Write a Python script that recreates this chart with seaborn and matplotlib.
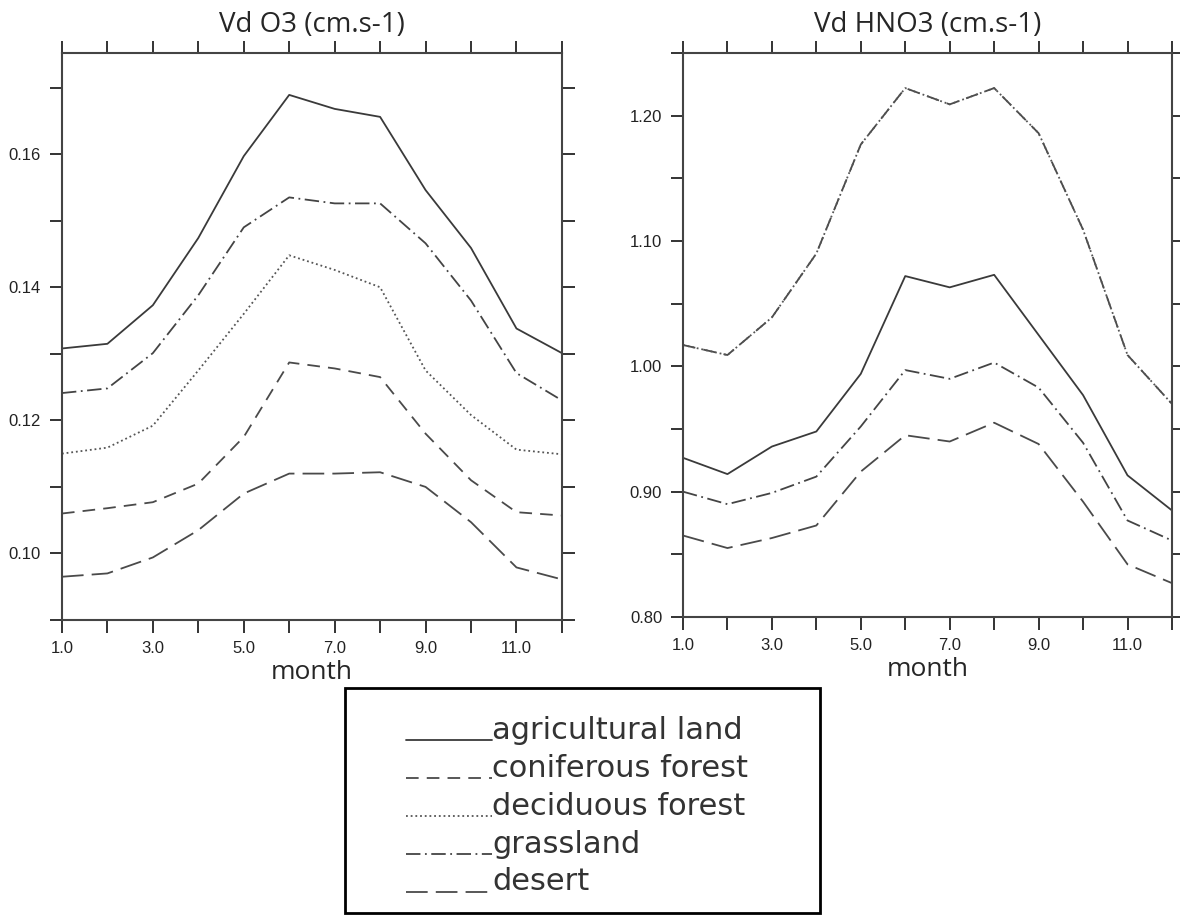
import pandas as pd
import matplotlib.pyplot as plt
import seaborn as sns
from matplotlib.lines import Line2D
from matplotlib.patches import Rectangle
from matplotlib.legend_handler import HandlerLine2D
from matplotlib.ticker import MultipleLocator, FormatStrFormatter

# Monthly deposition velocities
months = list(range(1, 13))
surfaces = ['agricultural land', 'coniferous forest', 'deciduous forest', 'grassland', 'desert']

o3_agri = [0.1308, 0.1315, 0.1373, 0.1474, 0.1597, 0.1689, 0.1668, 0.1656, 0.1546, 0.1459, 0.1338, 0.1301]
o3_conif = [0.1060, 0.1068, 0.1077, 0.1105, 0.1175, 0.1287, 0.1278, 0.1265, 0.1180, 0.1110, 0.1062, 0.1057]
o3_decid = [0.1150, 0.1159, 0.1192, 0.1275, 0.1360, 0.1448, 0.1426, 0.1400, 0.1275, 0.1208, 0.1156, 0.1149]
o3_grass = [0.1241, 0.1248, 0.1301, 0.1388, 0.1490, 0.1535, 0.1526, 0.1526, 0.1466, 0.1380, 0.1271, 0.1230]
o3_desert = [0.0965, 0.0970, 0.0994, 0.1035, 0.1090, 0.1120, 0.1120, 0.1122, 0.1100, 0.1047, 0.0979, 0.0961]

hno3_agri = [0.927, 0.914, 0.936, 0.948, 0.994, 1.072, 1.063, 1.073, 1.025, 0.977, 0.913, 0.885]
hno3_conif = [1.017, 1.009, 1.039, 1.090, 1.177, 1.222, 1.209, 1.222, 1.186, 1.109, 1.009, 0.970]
hno3_decid = [1.017, 1.009, 1.039, 1.090, 1.177, 1.222, 1.209, 1.222, 1.186, 1.109, 1.009, 0.970]
hno3_grass = [0.900, 0.890, 0.899, 0.912, 0.952, 0.997, 0.990, 1.003, 0.983, 0.939, 0.877, 0.861]
hno3_desert = [0.865, 0.855, 0.863, 0.873, 0.916, 0.945, 0.940, 0.955, 0.938, 0.892, 0.842, 0.827]


def long_df(series):
    rows = []
    for name, vals in zip(surfaces, series):
        for m, v in zip(months, vals):
            rows.append({'month': m, 'vd': v, 'surface': name})
    return pd.DataFrame(rows)


df_o3 = long_df([o3_agri, o3_conif, o3_decid, o3_grass, o3_desert])
df_hno3 = long_df([hno3_agri, hno3_conif, hno3_decid, hno3_grass, hno3_desert])

dashes = {
    'agricultural land': '',
    'coniferous forest': (7, 4.5),
    'deciduous forest': (1, 1.6),
    'grassland': (8, 2.5, 1, 2.5),
    'desert': (12, 4.5),
}
colors = {
    'agricultural land': '#3a3a3a',
    'coniferous forest': '#4a4a4a',
    'deciduous forest': '#555555',
    'grassland': '#444444',
    'desert': '#4a4a4a',
}


class BaselineHandler(HandlerLine2D):
    # draw the legend sample on the text baseline, like an underscore
    def create_artists(self, legend, orig_handle, xdescent, ydescent, width, height, fontsize, trans):
        artists = super().create_artists(legend, orig_handle, xdescent, ydescent,
                                         width, height, fontsize, trans)
        for a in artists:
            a.set_ydata([-0.04 * fontsize] * len(a.get_xdata()))
        return artists


sns.set_style('ticks')
plt.rcParams['font.family'] = ['Liberation Sans', 'DejaVu Sans']

fig = plt.figure(figsize=(11.8, 9.15), dpi=100)
ax1 = fig.add_axes([0.0525, 0.3224, 0.4237, 0.6197])
ax2 = fig.add_axes([0.5788, 0.3257, 0.4144, 0.6164])

for ax, df, title in [(ax1, df_o3, 'Vd O3 (cm.s-1)'), (ax2, df_hno3, 'Vd HNO3 (cm.s-1)')]:
    sns.lineplot(data=df, x='month', y='vd', hue='surface', style='surface',
                 palette=colors, dashes=dashes, linewidth=1.3, legend=False, ax=ax)
    ax.set_xlim(1, 12)
    ax.xaxis.set_major_locator(MultipleLocator(2))
    ax.xaxis.set_minor_locator(MultipleLocator(1))
    ax.xaxis.set_major_formatter(FormatStrFormatter('%.1f'))
    ax.set_title(title, fontsize=20, family=['Open Sans', 'DejaVu Sans'], pad=15)
    ax.set_xlabel('month', fontsize=19, family=['Open Sans', 'DejaVu Sans'], labelpad=3)
    ax.set_ylabel('')
    ax.tick_params(which='both', direction='out', length=9, width=1.4, color='#333333',
                   top=True, right=True, labelsize=12, labelcolor='#222222', pad=6)
    for s in ax.spines.values():
        s.set_linewidth(1.5)
        s.set_color('#444444')
    ax.set_xticks([1, 3, 5, 7, 9, 11])

ax1.set_ylim(0.09, 0.1752)
ax1.yaxis.set_major_locator(MultipleLocator(0.02))
ax1.yaxis.set_minor_locator(MultipleLocator(0.01))
ax1.yaxis.set_major_formatter(FormatStrFormatter('%.2f'))

ax2.set_ylim(0.80, 1.25)
ax2.yaxis.set_major_locator(MultipleLocator(0.10))
ax2.yaxis.set_minor_locator(MultipleLocator(0.05))
ax2.yaxis.set_major_formatter(FormatStrFormatter('%.2f'))

# legend box below the panels
fig.add_artist(Rectangle((345 / 1180, 0.002), (820 - 345) / 1180, (915 - 688) / 915 - 0.002,
                         transform=fig.transFigure, fill=False, lw=2, ec='black'))
handles = [Line2D([], [], color=colors[s], lw=1.3,
                  dashes=dashes[s] if dashes[s] else (None, None)) for s in surfaces]
fig.legend(handles, surfaces, loc='upper left', bbox_to_anchor=(406 / 1180, 1 - 716 / 915),
           frameon=False, borderpad=0, borderaxespad=0, handlelength=2.8, handletextpad=0.03,
           labelspacing=0.29, prop={'family': 'DejaVu Sans', 'size': 22}, labelcolor='#333333',
           handler_map={Line2D: BaselineHandler()})

fig.savefig('out.png', dpi=100)
plt.close()
